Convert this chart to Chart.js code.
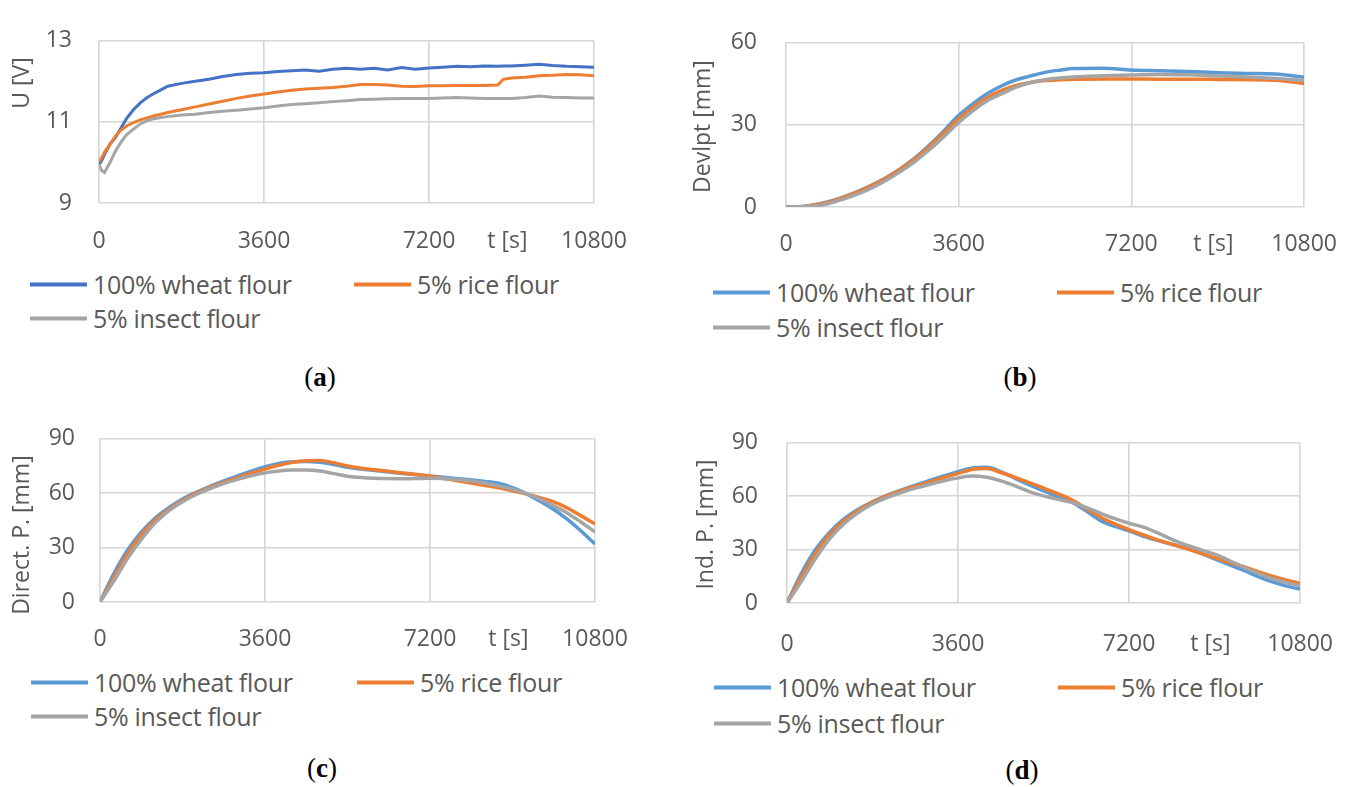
<!DOCTYPE html>
<html>
<head>
<meta charset="utf-8">
<script src="https://cdn.jsdelivr.net/npm/chart.js@4.4.1/dist/chart.umd.min.js"></script>
<style>
  body { margin: 0; background: #fff; }
  #page { position: relative; width: 1361px; height: 787px; overflow: hidden; font-family: 'Open Sans', sans-serif; }
  .panel { position: absolute; }
  .legend-item { position: absolute; display: flex; align-items: center; transform: translateY(-50%);
                 color: #595959; font-size: 25px; letter-spacing: -0.3px; white-space: nowrap; line-height: 1; }
  .legend-item i { display: inline-block; width: 57px; height: 4px; margin-right: 6px; }
  .caption { position: absolute; transform: translate(-50%, -50%); font-family: 'Liberation Serif', serif;
             font-size: 27px; color: #000; }
</style>
</head>
<body>
<div id="page">
  <div class="panel" style="left:0;top:0;width:680px;height:260px"><canvas id="chartA"></canvas></div>
  <div class="panel" style="left:680px;top:0;width:681px;height:265px"><canvas id="chartB"></canvas></div>
  <div class="panel" style="left:0;top:400px;width:680px;height:260px"><canvas id="chartC"></canvas></div>
  <div class="panel" style="left:680px;top:400px;width:681px;height:265px"><canvas id="chartD"></canvas></div>
  <div id="legends"></div>
  <span class="caption" style="left:320px;top:377px">(<b>a</b>)</span>
  <span class="caption" style="left:1020px;top:377px">(<b>b</b>)</span>
  <span class="caption" style="left:322px;top:768px">(<b>c</b>)</span>
  <span class="caption" style="left:1022px;top:770px">(<b>d</b>)</span>
</div>
<script>
// Series names
const seriesNames = ['100% wheat flour', '5% rice flour', '5% insect flour'];
const timeTicks = [0, 3600, 7200, 10800];

// (a) voltage U [V]
const tA = [0, 60, 120, 240, 360, 480, 600, 750, 900, 1050, 1200, 1350, 1500, 1800, 2100, 2400, 2700, 3000, 3300, 3600,
  3900, 4200, 4500, 4800, 5100, 5400, 5700, 6000, 6300, 6600, 6900, 7200, 7500, 7800, 8100, 8400, 8700, 8820, 9000, 9300,
  9600, 9900, 10200, 10500, 10800];
const wheatA = [9.95, 10.05, 10.2, 10.45, 10.62, 10.85, 11.08, 11.3, 11.47, 11.6, 11.7, 11.79, 11.88, 11.95, 12.0, 12.05, 12.12, 12.17, 12.2, 12.21,
  12.24, 12.26, 12.28, 12.25, 12.3, 12.32, 12.3, 12.32, 12.28, 12.34, 12.3, 12.33, 12.35, 12.37, 12.36, 12.38, 12.37, 12.38, 12.38, 12.4,
  12.42, 12.39, 12.37, 12.36, 12.35];
const riceA = [10.02, 10.12, 10.25, 10.45, 10.65, 10.8, 10.9, 10.98, 11.05, 11.1, 11.15, 11.19, 11.23, 11.3, 11.37, 11.44, 11.51, 11.58, 11.64, 11.69,
  11.74, 11.78, 11.81, 11.83, 11.85, 11.88, 11.92, 11.92, 11.91, 11.88, 11.87, 11.89, 11.89, 11.9, 11.9, 11.9, 11.91, 12.05, 12.08, 12.1,
  12.14, 12.15, 12.17, 12.16, 12.14];
const insectA = [9.95, 9.8, 9.75, 10.0, 10.28, 10.5, 10.68, 10.82, 10.95, 11.03, 11.08, 11.11, 11.13, 11.17, 11.19, 11.23, 11.26, 11.29, 11.32, 11.35,
  11.39, 11.43, 11.45, 11.47, 11.5, 11.52, 11.55, 11.56, 11.57, 11.58, 11.58, 11.58, 11.59, 11.6, 11.59, 11.58, 11.58, 11.58, 11.58, 11.6,
  11.64, 11.61, 11.6, 11.59, 11.59];
const yTicksA = [9, 11, 13];

// (b) development Devlpt [mm]
const tB = [0, 300, 600, 900, 1200, 1500, 1800, 2100, 2400, 2700, 3000, 3300, 3600, 3900, 4200, 4500, 4800, 5100, 5400, 5700,
  6000, 6600, 7200, 7800, 8400, 9000, 9600, 10200, 10800];
const wheatB = [0, 0.1, 0.8, 2.0, 3.7, 5.7, 8.1, 10.9, 14.2, 18.1, 22.8, 28.0, 33.5, 37.8, 41.5, 44.3, 46.5, 47.9, 49.2, 50.0,
  50.6, 50.7, 50.1, 49.8, 49.5, 49.1, 48.8, 48.6, 47.4];
const riceB = [0, 0.1, 0.7, 1.8, 3.5, 5.5, 7.9, 10.7, 14.0, 17.8, 22.3, 27.3, 32.2, 36.5, 40.0, 42.6, 44.4, 45.5, 46.2, 46.5,
  46.7, 46.8, 46.8, 46.7, 46.7, 46.6, 46.5, 46.3, 45.1];
const insectB = [0, 0.05, 0.4, 1.3, 2.9, 4.8, 7.1, 9.9, 13.1, 16.8, 21.1, 25.9, 30.9, 35.2, 38.9, 41.4, 43.8, 45.5, 46.5, 47.1,
  47.5, 48.0, 48.2, 48.4, 48.3, 47.9, 47.5, 47.0, 46.2];
const yTicksB = [0, 30, 60];

// (c) direct penetration Direct. P. [mm]
const tC = [0, 300, 600, 900, 1200, 1500, 1800, 2100, 2400, 2700, 3000, 3300, 3600, 3900, 4200, 4500, 4800, 5100, 5400, 5700,
  6000, 6600, 7200, 7800, 8400, 8700, 9000, 9300, 9600, 9900, 10200, 10500, 10800];
const wheatC = [0, 15.5, 28.5, 38.5, 46.2, 52.0, 56.8, 60.5, 63.8, 66.8, 69.6, 72.2, 74.6, 76.4, 77.4, 77.5, 77.0, 75.8, 74.3, 73.3,
  72.5, 70.9, 69.5, 68.0, 66.5, 65.5, 63.0, 59.8, 55.5, 51.0, 45.5, 39.0, 32.0];
const riceC = [0, 13.5, 26.5, 37.0, 45.0, 51.0, 56.0, 60.0, 63.2, 66.0, 68.6, 71.0, 73.3, 75.4, 77.0, 77.9, 78.0, 76.8, 75.0, 73.8,
  72.9, 71.2, 69.4, 66.8, 64.3, 63.0, 61.3, 59.6, 57.5, 55.2, 51.8, 47.5, 43.0];
const insectC = [0, 11.5, 24.0, 34.5, 43.5, 50.3, 55.3, 59.3, 62.5, 65.3, 67.6, 69.6, 71.2, 72.3, 72.8, 72.8, 72.2, 70.8, 69.4, 68.6,
  68.2, 68.0, 68.3, 67.5, 65.6, 64.0, 62.2, 59.8, 56.8, 53.0, 49.0, 44.0, 38.7];
const yTicksC = [0, 30, 60, 90];

// (d) indirect penetration Ind. P. [mm]
const tD = [0, 300, 600, 900, 1200, 1500, 1800, 2100, 2400, 2700, 3000, 3300, 3600, 3900, 4200, 4500, 4800, 5100, 5400, 5700,
  6000, 6300, 6600, 6900, 7200, 7500, 7800, 8100, 8400, 8700, 9000, 9300, 9600, 9900, 10200, 10500, 10800];
const wheatD = [0, 16.5, 30.0, 39.8, 47.2, 52.6, 56.8, 60.5, 63.4, 66.2, 68.8, 71.4, 73.8, 75.8, 76.2, 73.8, 70.0, 66.4, 63.0, 59.8,
  56.6, 51.6, 46.3, 43.0, 40.5, 37.5, 35.2, 33.0, 30.8, 28.0, 24.8, 21.6, 18.4, 15.0, 12.0, 9.6, 7.8];
const riceD = [0, 14.5, 28.0, 38.5, 46.2, 52.0, 56.5, 60.2, 63.0, 65.6, 68.0, 70.4, 72.8, 75.0, 75.5, 73.3, 70.6, 67.6, 64.6, 61.4,
  57.8, 53.0, 48.2, 44.4, 41.2, 38.2, 35.4, 33.0, 30.6, 28.0, 25.5, 22.8, 20.5, 17.8, 15.2, 13.0, 11.0];
const insectD = [0, 12.0, 25.0, 36.2, 44.5, 50.8, 55.6, 59.2, 62.0, 64.5, 66.6, 68.6, 70.3, 71.3, 70.6, 68.6, 65.8, 62.6, 60.2, 58.2,
  56.4, 53.6, 50.4, 47.4, 44.8, 42.6, 39.4, 35.8, 32.6, 30.0, 27.4, 24.0, 20.2, 16.8, 13.8, 11.6, 9.7];
const yTicksD = [0, 30, 60, 90];

const TEXT = '#595959';
const GRID = '#d6d6d6';
const FONT = "'Open Sans', sans-serif";

Chart.defaults.font.family = FONT;
Chart.defaults.font.size = 23;
Chart.defaults.color = TEXT;

// Axis captions: rotated y title and the "t [s]" unit on the tick row
const axisText = {
  id: 'axisText',
  afterDraw(chart, args, opts) {
    const { ctx, chartArea, scales } = chart;
    ctx.save();
    ctx.fillStyle = TEXT;
    ctx.font = '23px ' + FONT;
    ctx.textAlign = 'center';
    ctx.textBaseline = 'middle';
    ctx.fillText('t [s]', scales.x.getPixelForValue(8910), chartArea.bottom + opts.xPad + 13.8);
    ctx.translate(opts.yTitleX, chartArea.top + opts.yTitleFrac * (chartArea.bottom - chartArea.top));
    ctx.rotate(-Math.PI / 2);
    ctx.fillText(opts.yTitle, 0, 0);
    ctx.restore();
  }
};

function makeChart(p) {
  const canvas = document.getElementById(p.id);
  const W = canvas.parentNode.clientWidth;
  const H = canvas.parentNode.clientHeight;
  const pairs = (t, v) => t.map((x, i) => ({ x, y: v[i] }));
  const smooth = p.smooth ? { cubicInterpolationMode: 'monotone' } : { tension: 0 };

  const datasets = p.series.map((vals, i) => Object.assign({
    label: seriesNames[i],
    data: pairs(p.t, vals),
    borderColor: p.colors[i],
    backgroundColor: p.colors[i],
    borderWidth: p.lineWidth,
    pointRadius: 0,
    order: 3 - i,
  }, smooth));

  const chart = new Chart(canvas, {
    type: 'line',
    data: { datasets },
    options: {
      responsive: true,
      maintainAspectRatio: false,
      animation: false,
      events: [],
      layout: { padding: { left: 0, top: p.area.top, right: W - p.area.right, bottom: 0 } },
      plugins: {
        legend: { display: false },
        tooltip: { enabled: false },
        axisText: { yTitle: p.yTitle, yTitleX: p.yTitleX, yTitleFrac: p.yTitleFrac, xPad: p.xPad },
      },
      scales: {
        x: {
          type: 'linear',
          min: 0,
          max: 10800,
          afterBuildTicks: s => { s.ticks = timeTicks.map(value => ({ value })); },
          afterFit: s => { s.height = H - p.area.bottom; },
          ticks: { padding: p.xPad, maxRotation: 0, callback: v => String(v) },
          grid: { color: GRID, lineWidth: 1.6, drawTicks: false },
          border: { display: false },
        },
        y: {
          min: p.yTicks[0],
          max: p.yTicks[p.yTicks.length - 1],
          afterBuildTicks: s => { s.ticks = p.yTicks.map(value => ({ value })); },
          afterFit: s => { s.width = p.area.left; },
          ticks: { padding: p.yPad, callback: v => String(v) },
          grid: { color: GRID, lineWidth: 1.6, drawTicks: false },
          border: { display: false },
        }
      }
    },
    plugins: [axisText]
  });

  buildLegend(chart, p.legend);
  return chart;
}

// Two-column legend: first two series on the top row, the third below the first
function buildLegend(chart, lg) {
  const host = document.getElementById('legends');
  chart.data.datasets.forEach((ds, i) => {
    const item = document.createElement('div');
    item.className = 'legend-item';
    item.style.left = (i === 1 ? lg.x2 : lg.x1) + 'px';
    item.style.top = (i === 2 ? lg.y2 : lg.y1) + 'px';
    item.innerHTML = '<i style="background:' + ds.borderColor + '"></i><span>' + ds.label + '</span>';
    host.appendChild(item);
  });
}

const darkSet = ['#4472C4', '#ED7D31', '#A5A5A5'];
const lightSet = ['#5B9BD5', '#ED7D31', '#A5A5A5'];

makeChart({
  id: 'chartA', t: tA, series: [wheatA, riceA, insectA], colors: darkSet, smooth: false, lineWidth: 3,
  yTicks: yTicksA, area: { left: 99, right: 594, top: 25, bottom: 203 },
  yPad: 27, xPad: 25, yTitle: 'U [V]', yTitleX: 22, yTitleFrac: 0.26,
  legend: { x1: 30, x2: 354, y1: 284, y2: 318 }
});
makeChart({
  id: 'chartB', t: tB, series: [wheatB, riceB, insectB], colors: lightSet, smooth: true, lineWidth: 3.5,
  yTicks: yTicksB, area: { left: 106, right: 625, top: 19, bottom: 207 },
  yPad: 29, xPad: 24, yTitle: 'Devlpt [mm]', yTitleX: 23, yTitleFrac: 0.51,
  legend: { x1: 713, x2: 1057, y1: 292, y2: 327 }
});
makeChart({
  id: 'chartC', t: tC, series: [wheatC, riceC, insectC], colors: lightSet, smooth: true, lineWidth: 3.5,
  yTicks: yTicksC, area: { left: 100, right: 595, top: 23, bottom: 202 },
  yPad: 25, xPad: 24, yTitle: 'Direct. P. [mm]', yTitleX: 22, yTitleFrac: 0.59,
  legend: { x1: 31, x2: 357, y1: 682, y2: 716 }
});
makeChart({
  id: 'chartD', t: tD, series: [wheatD, riceD, insectD], colors: lightSet, smooth: true, lineWidth: 3.5,
  yTicks: yTicksD, area: { left: 107, right: 626, top: 14, bottom: 203 },
  yPad: 29, xPad: 28, yTitle: 'Ind. P. [mm]', yTitleX: 26, yTitleFrac: 0.51,
  legend: { x1: 714, x2: 1058, y1: 687, y2: 723 }
});
</script>
</body>
</html>
